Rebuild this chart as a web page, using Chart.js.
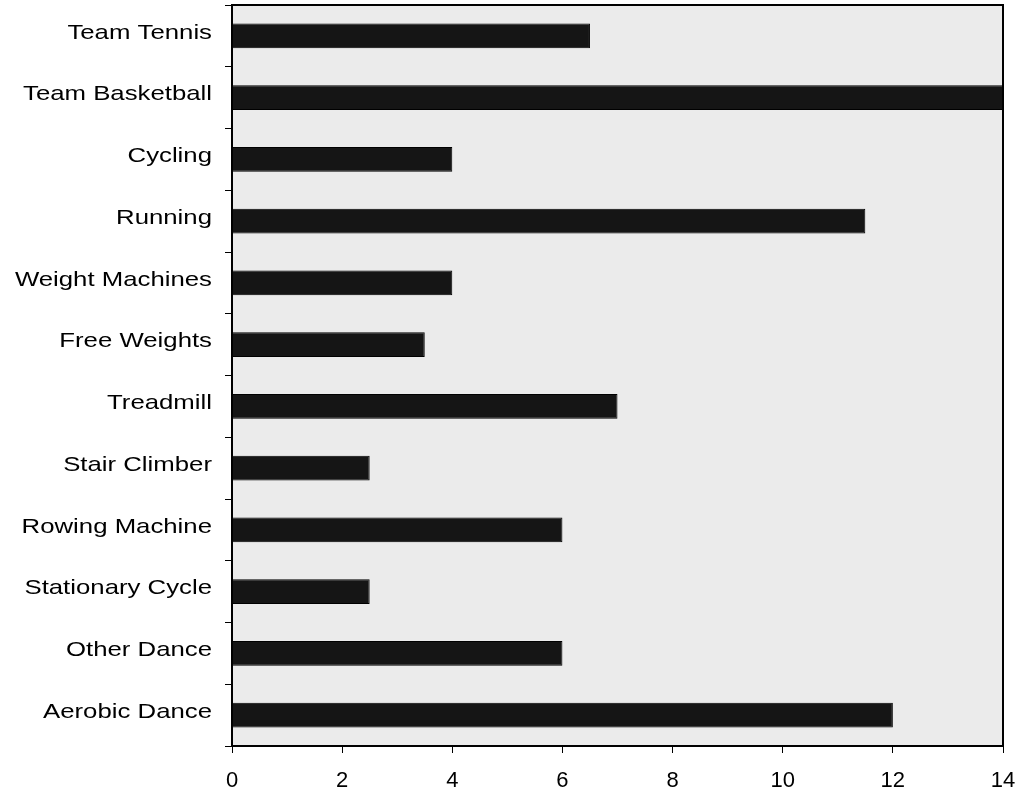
<!DOCTYPE html>
<html>
<head>
<meta charset="utf-8">
<script src="https://cdn.jsdelivr.net/npm/chart.js@4/dist/chart.umd.min.js"></script>
<style>
  html, body { margin: 0; padding: 0; background: #fff; }
  #wrap { width: 1023px; height: 797px; }
</style>
</head>
<body>
<div id="wrap"><canvas id="chart" width="1023" height="797"></canvas></div>
<script>
const categories = [
  "Team Tennis", "Team Basketball", "Cycling", "Running", "Weight Machines",
  "Free Weights", "Treadmill", "Stair Climber", "Rowing Machine",
  "Stationary Cycle", "Other Dance", "Aerobic Dance"
];
const values = [6.5, 14, 4, 11.5, 4, 3.5, 7, 2.5, 6, 2.5, 6, 12];
const xTicks = [0, 2, 4, 6, 8, 10, 12, 14];

const FONT_FAMILY = "'Liberation Sans', Arial, sans-serif";

// grey plot background plus the black frame round it
const frame = {
  id: "frame",
  beforeDraw(chart) {
    const { ctx, chartArea: a } = chart;
    ctx.save();
    ctx.fillStyle = "#ebebeb";
    ctx.fillRect(a.left, a.top, a.right - a.left, a.bottom - a.top);
    ctx.restore();
  },
  afterDraw(chart) {
    const { ctx, chartArea: a } = chart;
    ctx.save();
    ctx.strokeStyle = "#000";
    ctx.lineWidth = 2;
    ctx.strokeRect(a.left, a.top, a.right - a.left, a.bottom - a.top);
    ctx.restore();
  },
};

// the category labels in the original are drawn wide, so stretch them sideways
const wideLabels = {
  id: "wideLabels",
  afterDraw(chart) {
    const { ctx } = chart;
    const y = chart.scales.y;
    ctx.save();
    ctx.font = "21px " + FONT_FAMILY;
    const sx = 189 / ctx.measureText("Team Basketball").width;
    ctx.fillStyle = "#000";
    ctx.textAlign = "right";
    ctx.textBaseline = "middle";
    categories.forEach((label, i) => {
      ctx.save();
      ctx.translate(y.right - 20, y.getPixelForTick(i) - 3);
      ctx.scale(sx, 1);
      ctx.fillText(label, 0, 0);
      ctx.restore();
    });
    ctx.restore();
  },
};

new Chart(document.getElementById("chart"), {
  type: "bar",
  data: {
    labels: categories,
    datasets: [{
      data: values,
      backgroundColor: "#151515",
      borderColor: "#000",
      borderWidth: 1,
      categoryPercentage: 0.8,
      barPercentage: 0.5,
    }],
  },
  options: {
    indexAxis: "y",
    responsive: false,
    animation: false,
    layout: { padding: { top: 5, right: 20, left: 0, bottom: 0 } },
    plugins: { legend: { display: false }, tooltip: { enabled: false } },
    scales: {
      x: {
        min: 0,
        max: 14,
        afterBuildTicks(scale) {
          scale.ticks = xTicks.map((v) => ({ value: v }));
        },
        afterFit(scale) {
          scale.height = 51;
          scale.paddingLeft = 0;
          scale.paddingRight = 0;
        },
        grid: { drawOnChartArea: false, tickLength: 7, color: "#000", lineWidth: 1 },
        border: { color: "#000", width: 2 },
        ticks: { color: "#000", font: { family: FONT_FAMILY, size: 22 }, padding: 15, maxRotation: 0 },
      },
      y: {
        afterFit(scale) { scale.width = 232; },
        grid: { drawOnChartArea: false, tickLength: 7, color: "#000", lineWidth: 1, offset: true },
        border: { color: "#000", width: 2 },
        ticks: { display: false },
      },
    },
  },
  plugins: [frame, wideLabels],
});
</script>
</body>
</html>
